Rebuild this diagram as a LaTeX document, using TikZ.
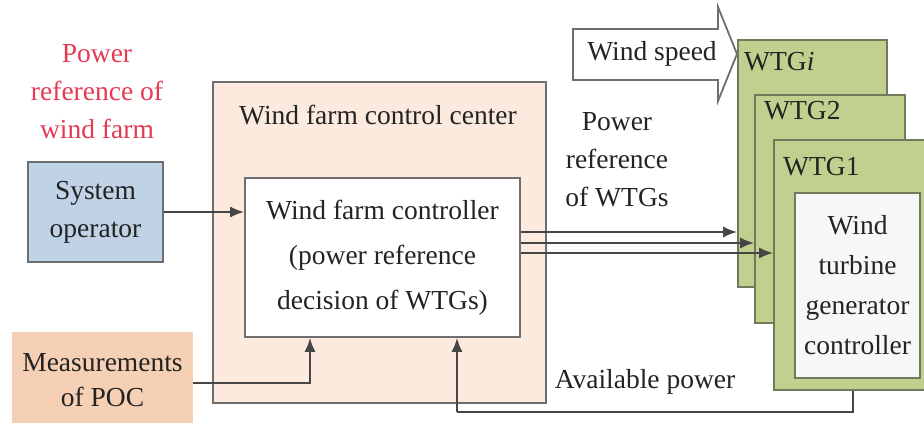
\documentclass[tikz,border=0pt]{standalone}
\usepackage{fontspec}
\setmainfont{Liberation Serif}
\usetikzlibrary{arrows.meta}
\definecolor{txt}{RGB}{35,35,35}
\definecolor{redtxt}{RGB}{228,58,82}
\definecolor{bluefill}{RGB}{192,211,230}
\definecolor{peach}{RGB}{246,208,180}
\definecolor{lightpeach}{RGB}{252,234,222}
\definecolor{wtggreen}{RGB}{193,208,142}
\definecolor{edge}{RGB}{110,110,110}
\definecolor{greenedge}{RGB}{112,122,92}
\definecolor{lnc}{RGB}{70,70,70}
\definecolor{ctrlfill}{RGB}{247,247,247}
\begin{document}
\begin{tikzpicture}[x=1pt,y=-1pt,
  every node/.style={text=txt, font=\rmfamily\fontsize{27.5}{38}\selectfont, inner sep=0pt, align=center},
  blk/.style={draw=edge, line width=1.8pt, rectangle},
  wtg/.style={draw=greenedge, fill=wtggreen, line width=1.8pt, rectangle},
  conn/.style={draw=lnc, line width=1.8pt, -{Latex[length=14pt,width=11pt]}},
  plain/.style={draw=lnc, line width=1.8pt}]
\useasboundingbox (0,0) rectangle (924,423);
\fill[white] (0,0) rectangle (924,423);

% red label
\node[text=redtxt] (redlbl) at (97,92) {Power\\reference of\\wind farm};

% system operator
\node[blk, fill=bluefill, minimum width=135pt, minimum height=100pt] (sysop) at (95.5,212) {System\\operator};

% measurements
\node[fill=peach, minimum width=181pt, minimum height=100pt] (meas) at (102.5,382) {};
\node[font=\rmfamily\fontsize{27.5}{35}\selectfont] (meastxt) at (102.5,380) {Measurements\\of POC};

% wind farm control center
\node[blk, fill=lightpeach, minimum width=333pt, minimum height=321pt] (wfcc) at (379.5,242.5) {};
\node (wfcctitle) at (378,115) {Wind farm control center};

% controller
\node[blk, fill=white, minimum width=275pt, minimum height=159pt, font=\rmfamily\fontsize{27.5}{45}\selectfont] (ctrl) at (382.5,257.5) {Wind farm controller\\(power reference\\decision of WTGs)};

% wind speed arrow
\draw[draw=edge, fill=white, line width=1.8pt]
  (573,29) -- (718,29) -- (718,7) -- (737,54) -- (718,101) -- (718,80) -- (573,80) -- cycle;
\node (ws) at (652,54) {Wind speed};

% WTG boxes
\node[wtg, minimum width=149pt, minimum height=247pt] (wtgi) at (812.5,163.5) {};
\node[anchor=west] (wtgilbl) at (744,62) {WTG\textit{i}};
\node[wtg, minimum width=150pt, minimum height=228pt] (wtg2) at (830,209) {};
\node[anchor=west] (wtg2lbl) at (764,111) {WTG2};
\node[wtg, minimum width=158pt, minimum height=250pt] (wtg1) at (853,265) {};
\node[anchor=west] (wtg1lbl) at (783,167) {WTG1};
\node[draw=greenedge, line width=1.8pt, fill=ctrlfill, minimum width=125pt, minimum height=185pt, font=\rmfamily\fontsize{27.5}{40}\selectfont] (wtgc) at (857.5,285.5) {Wind\\turbine\\generator\\controller};

% labels
\node (prw) at (617,160) {Power\\reference\\of WTGs};
\node (avp) at (645,382) {Available power};

% connectors
\draw[conn] (sysop.east) -- (sysop.east -| ctrl.west);

\coordinate (m1) at (310,383);
\draw[conn] (meas.east |- m1) -| (ctrl.south -| m1);

\coordinate (o1) at (0,232);
\coordinate (o2) at (0,243);
\coordinate (o3) at (0,253);
\draw[conn] (ctrl.east |- o1) -- (wtgi.west |- o1);
\draw[conn] (ctrl.east |- o2) -- (wtg2.west |- o2);
\draw[conn] (ctrl.east |- o3) -- (wtg1.west |- o3);

\coordinate (a1) at (853,412);
\coordinate (a2) at (457,412);
\draw[plain] (wtg1.south -| a1) -- (a1) -- (a2);
\draw[conn] (a2) -- (ctrl.south -| a2);
\end{tikzpicture}
\end{document}
